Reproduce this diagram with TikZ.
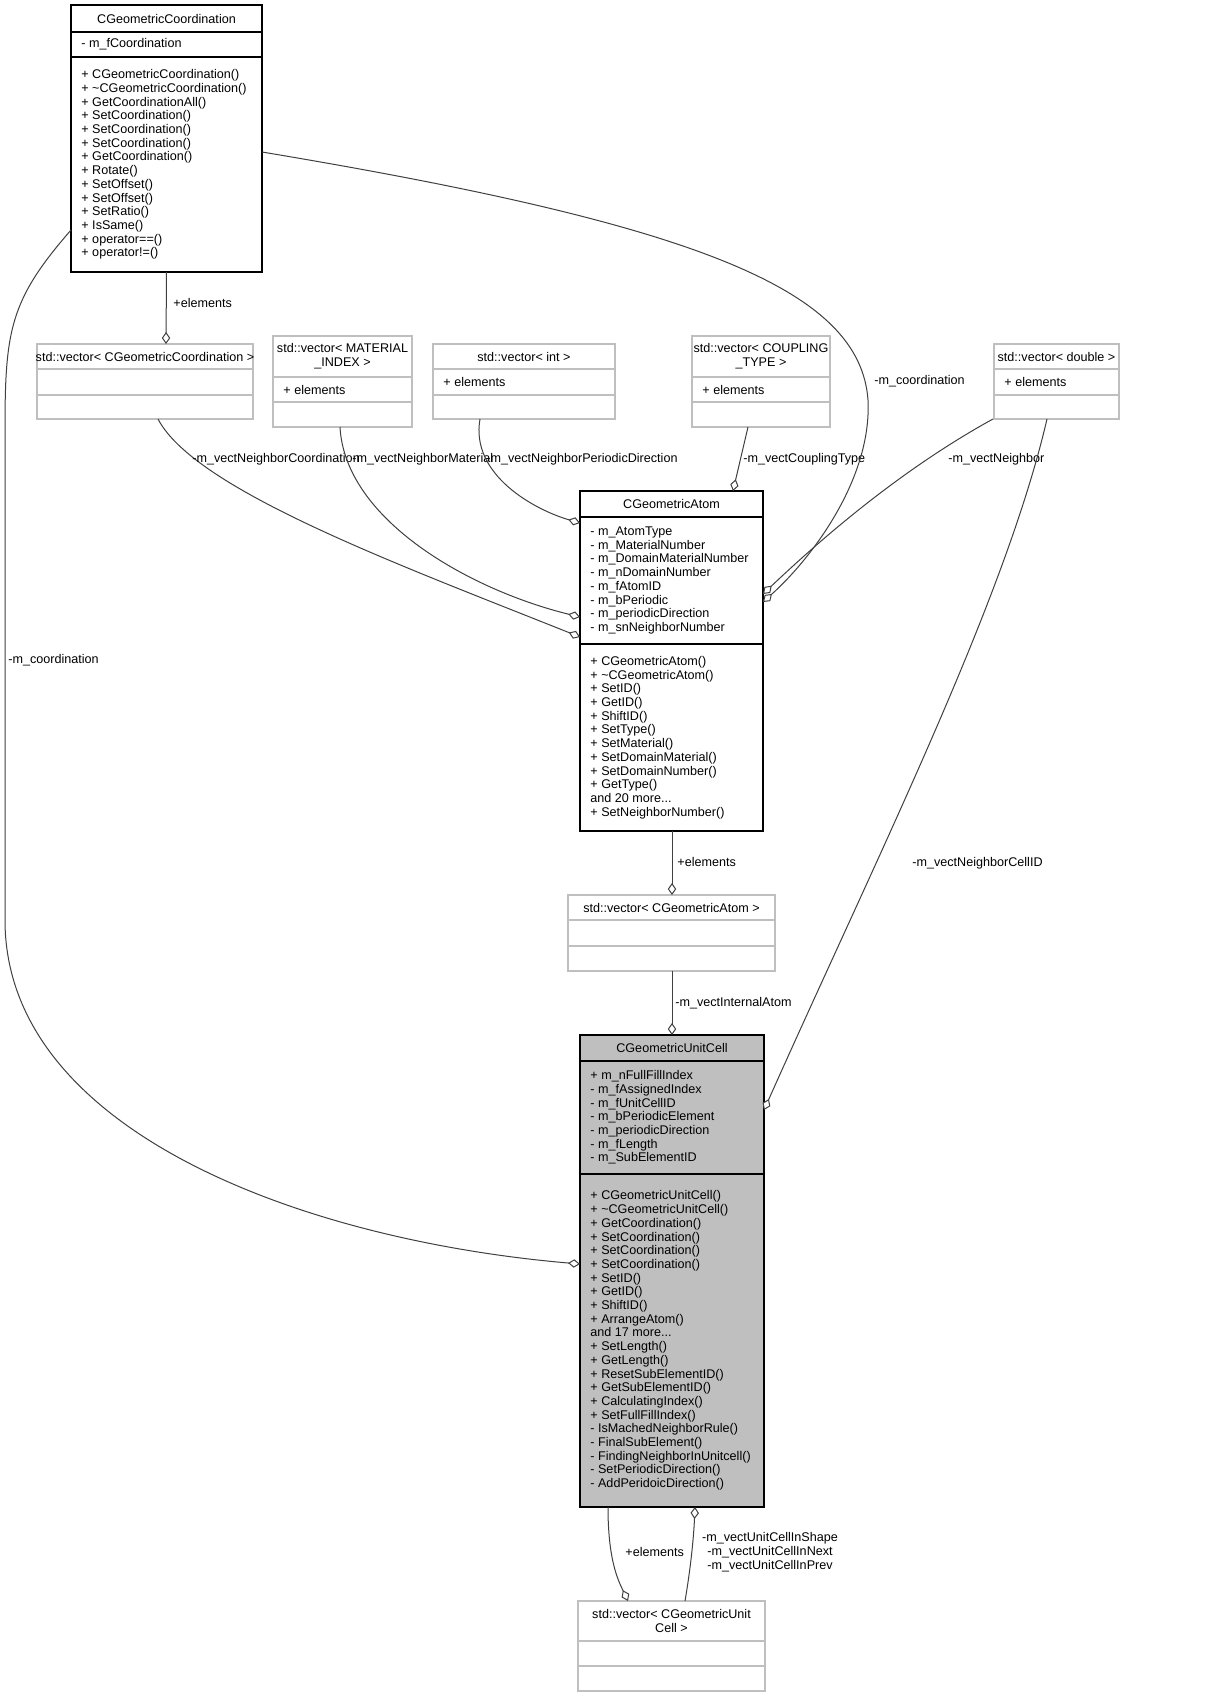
\documentclass[tikz,border=0pt]{standalone}
\usepackage{fontspec}
\setmainfont{Liberation Sans}
\usetikzlibrary{arrows.meta}
\definecolor{edge}{HTML}{404040}
\definecolor{vbox}{HTML}{BFBFBF}
\definecolor{ucfill}{HTML}{BFBFBF}
\tikzset{
  every node/.style={font=\fontsize{6.3}{6.85}\selectfont, inner sep=0pt},
  box/.style={draw, line width=0.6pt, anchor=north west, minimum width=#1*0.5pt},
  txt/.style={anchor=west, align=left},
  hdr/.style={anchor=center, align=center},
  lbl/.style={anchor=west, align=left},
  conn/.style={draw=edge, line width=0.5pt, -{Diamond[open,length=6pt,width=4.2pt,fill=white]}},
}
\newcommand\umlbox[9]{% name x1 y1 x2 y2 s1 s2 drawcolor fill
  \path[draw=#8, fill=#9, line width=0.6pt] (#2,#3) rectangle (#4,#5);
  \coordinate (#1) at ({(#2+#4)/2},{(#3+#5)/2});
  \draw[#8, line width=0.6pt] (#2,#6) -- (#4,#6) (#2,#7) -- (#4,#7);
}
\begin{document}
\begin{tikzpicture}[x=0.5pt,y=-0.5pt]
\path[fill=white] (0,0) rectangle (1205,1697);
\useasboundingbox (0,0) rectangle (1205,1697);

% CGeometricCoordination
\umlbox{coord}{71}{5}{262}{272}{32}{57}{black}{white}
\node[hdr] (coordh) at (166.5,18.5) {CGeometricCoordination};
\node[txt] (coorda) at (81,44.5) {- m\_fCoordination};
\node[txt] (coordo) at (81,164.5) {+ CGeometricCoordination()\\+ \textasciitilde CGeometricCoordination()\\+ GetCoordinationAll()\\+ SetCoordination()\\+ SetCoordination()\\+ SetCoordination()\\+ GetCoordination()\\+ Rotate()\\+ SetOffset()\\+ SetOffset()\\+ SetRatio()\\+ IsSame()\\+ operator==()\\+ operator!=()};

% vector boxes
\umlbox{vcoord}{37}{344}{253}{419}{369}{395}{vbox}{white}
\node[hdr] (vcoordh) at (145,356.5) {std::vector< CGeometricCoordination >};
\umlbox{vmat}{273}{336}{412}{427}{377}{402}{vbox}{white}
\node[hdr] (vmath) at (342.5,356.5) {std::vector< MATERIAL\\\_INDEX >};
\node[txt] (vmata) at (283,389.5) {+ elements};
\umlbox{vint}{433}{344}{615}{419}{369}{395}{vbox}{white}
\node[hdr] (vinth) at (524,356.5) {std::vector< int >};
\node[txt] (vinta) at (443,382) {+ elements};
\umlbox{vcoup}{692}{336}{830}{427}{377}{402}{vbox}{white}
\node[hdr] (vcouph) at (761,356.5) {std::vector< COUPLING\\\_TYPE >};
\node[txt] (vcoupa) at (702,389.5) {+ elements};
\umlbox{vdbl}{994}{344}{1119}{419}{369}{395}{vbox}{white}
\node[hdr] (vdblh) at (1056.5,356.5) {std::vector< double >};
\node[txt] (vdbla) at (1004,382) {+ elements};

% CGeometricAtom
\umlbox{atom}{580}{491}{763}{831}{517}{644}{black}{white}
\node[hdr] (atomh) at (671.5,504) {CGeometricAtom};
\node[txt] (atoma) at (590,580.5) {- m\_AtomType\\- m\_MaterialNumber\\- m\_DomainMaterialNumber\\- m\_nDomainNumber\\- m\_fAtomID\\- m\_bPeriodic\\- m\_periodicDirection\\- m\_snNeighborNumber};
\node[txt] (atomo) at (590,737.5) {+ CGeometricAtom()\\+ \textasciitilde CGeometricAtom()\\+ SetID()\\+ GetID()\\+ ShiftID()\\+ SetType()\\+ SetMaterial()\\+ SetDomainMaterial()\\+ SetDomainNumber()\\+ GetType()\\and 20 more...\\+ SetNeighborNumber()};

% vector<CGeometricAtom>
\umlbox{vatom}{568}{895}{775}{971}{920}{946}{vbox}{white}
\node[hdr] (vatomh) at (671.5,907.5) {std::vector< CGeometricAtom >};

% CGeometricUnitCell
\umlbox{uc}{580}{1035}{764}{1507}{1061}{1174}{black}{ucfill}
\node[hdr] (uch) at (672,1048) {CGeometricUnitCell};
\node[txt] (uca) at (590,1117.5) {+ m\_nFullFillIndex\\- m\_fAssignedIndex\\- m\_fUnitCellID\\- m\_bPeriodicElement\\- m\_periodicDirection\\- m\_fLength\\- m\_SubElementID};
\node[txt] (uco) at (590,1340.5) {+ CGeometricUnitCell()\\+ \textasciitilde CGeometricUnitCell()\\+ GetCoordination()\\+ SetCoordination()\\+ SetCoordination()\\+ SetCoordination()\\+ SetID()\\+ GetID()\\+ ShiftID()\\+ ArrangeAtom()\\and 17 more...\\+ SetLength()\\+ GetLength()\\+ ResetSubElementID()\\+ GetSubElementID()\\+ CalculatingIndex()\\+ SetFullFillIndex()\\- IsMachedNeighborRule()\\- FinalSubElement()\\- FindingNeighborInUnitcell()\\- SetPeriodicDirection()\\- AddPeridoicDirection()};

% vector<CGeometricUnitCell>
\umlbox{vuc}{578}{1601}{765}{1691}{1641}{1666}{vbox}{white}
\node[hdr] (vuch) at (671.5,1621) {std::vector< CGeometricUnit\\Cell >};

% connectors
\draw[conn] (coord |- 0,272) -- (166,344);
\node[lbl] (l1) at (173,303) {+elements};

\draw[conn] (158,419) .. controls (195,490) and (400,565) .. (580,637);
\node[lbl] (l2) at (192,459) {-m\_vectNeighborCoordination};

\draw[conn] (340,427) .. controls (345,520) and (470,590) .. (580,617);
\node[lbl] (l3) at (352,459) {-m\_vectNeighborMaterial};

\draw[conn] (480,419) .. controls (470,475) and (535,510) .. (580,523);
\node[lbl] (l4) at (486,459) {-m\_vectNeighborPeriodicDirection};

\draw[conn] (748,427) -- (733,491);
\node[lbl] (l5) at (743,459) {-m\_vectCouplingType};

\draw[conn] (262,152) .. controls (700,225) and (860,290) .. (868,400) .. controls (872,480) and (810,560) .. (763,602);
\node[lbl] (l6) at (874,381) {-m\_coordination};

\draw[conn] (993,419) .. controls (900,470) and (820,540) .. (763,594);
\node[lbl] (l7) at (948,459) {-m\_vectNeighbor};

\draw[conn] (1047,419) .. controls (1005,600) and (880,850) .. (764,1110);
\node[lbl] (l8) at (912,863) {-m\_vectNeighborCellID};

\draw[conn] (71,230) .. controls (10,300) and (5,330) .. (5,430) -- (5,920) .. controls (5,1130) and (300,1240) .. (580,1264);
\node[lbl] (l9) at (8,660) {-m\_coordination};

\draw[conn] (672,831) -- (672,895);
\node[lbl] (l10) at (677,862) {+elements};
\draw[conn] (672,971) -- (672,1035);
\node[lbl] (l11) at (675,1003) {-m\_vectInternalAtom};

\draw[conn] (608,1507) .. controls (608,1560) and (618,1580) .. (628,1601);
\node[lbl] (l12) at (625,1552) {+elements};
\draw[conn] (685,1601) .. controls (692,1560) and (694,1530) .. (695,1507);
\node[hdr] (l13) at (770,1552) {-m\_vectUnitCellInShape\\-m\_vectUnitCellInNext\\-m\_vectUnitCellInPrev};
\end{tikzpicture}
\end{document}
